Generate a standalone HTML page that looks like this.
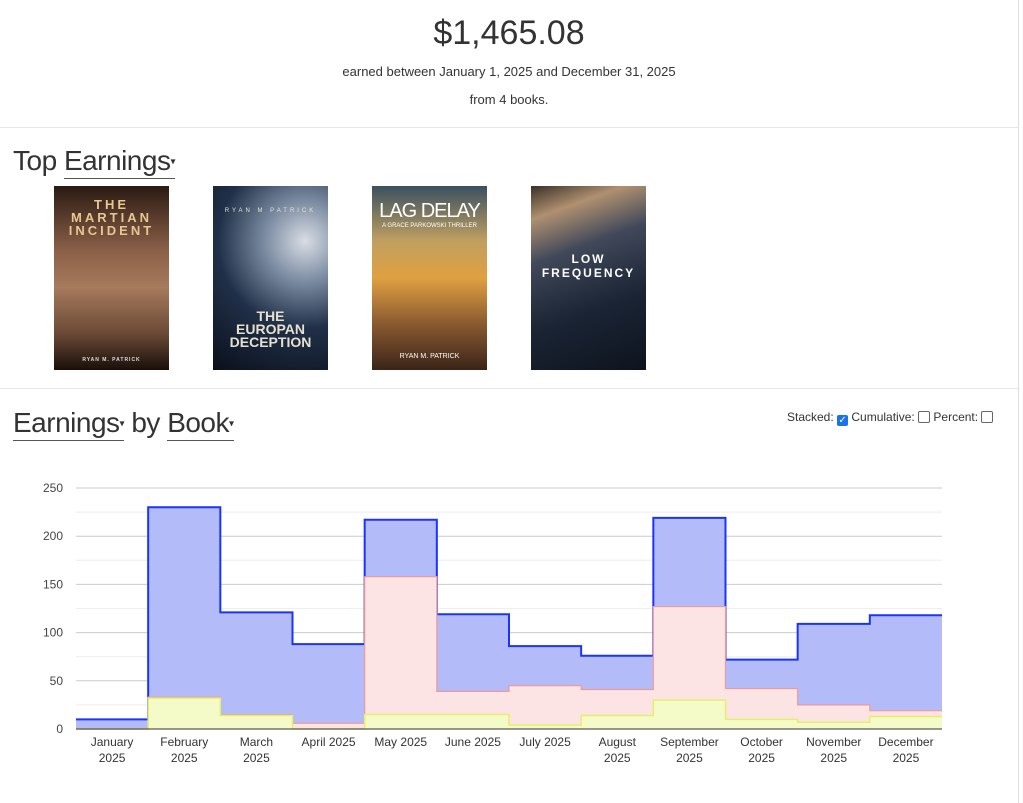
<!DOCTYPE html>
<html><head><meta charset="utf-8">
<style>
body{margin:0;width:1023px;height:803px;background:#fff;font-family:"Liberation Sans",sans-serif;color:#222;position:relative;overflow:hidden}
.abs{position:absolute}
.total{left:0;width:1018px;top:14px;text-align:center;font-size:34px;color:#333}
.sub{left:0;width:1018px;text-align:center;font-size:13px;color:#333}
.hr{left:0;width:1018px;height:1px;background:#e8e8e8}
.h{font-size:28px;color:#333;white-space:nowrap;letter-spacing:-0.5px}
.dd{border-bottom:1.5px solid #555;display:inline-block;line-height:30px}
.car{font-size:10px;vertical-align:middle}
.cover{width:115px;height:184px;overflow:hidden;font-weight:bold;text-align:center}
</style></head><body>
<div class="abs" style="left:1018px;top:0;width:1px;height:803px;background:#ddd"></div>
<div class="abs total">$1,465.08</div>
<div class="abs sub" style="top:64px">earned between January 1, 2025 and December 31, 2025</div>
<div class="abs sub" style="top:92px">from 4 books.</div>
<div class="abs hr" style="top:127px"></div>
<div class="abs h" style="left:13px;top:145px">Top <span class="dd">Earnings<span class="car">▾</span></span></div>

<div class="abs cover" style="left:54px;top:186px;background:linear-gradient(180deg,#2a1a12 0%,#8a6048 35%,#a67a5c 55%,#6b4a36 80%,#1a0f0a 100%);color:#e8c690;font-size:13px;letter-spacing:3px"><div style="margin-top:12px;line-height:13px">THE<br>MARTIAN<br>INCIDENT</div><div style="font-size:5px;margin-top:120px;color:#ddd;letter-spacing:1px">RYAN M. PATRICK</div></div>
<div class="abs cover" style="left:213px;top:186px;background:radial-gradient(circle at 80% 30%,#d9dde4 0%,#7d8da3 25%,#203048 55%,#0a0f1a 100%);color:#e6e0d0;font-size:14px"><div style="font-size:6px;margin-top:22px;letter-spacing:3px;font-weight:normal">RYAN M PATRICK</div><div style="margin-top:96px;line-height:13px">THE<br>EUROPAN<br>DECEPTION</div></div>
<div class="abs cover" style="left:372px;top:186px;background:linear-gradient(180deg,#3a5060 0%,#c0a060 30%,#e0a040 50%,#8a5a30 75%,#3a2418 100%);color:#fff;font-size:20px;font-weight:normal"><div style="margin-top:14px;white-space:nowrap;letter-spacing:-1px">LAG DELAY</div><div style="font-size:6px;white-space:nowrap">A GRACE PARKOWSKI THRILLER</div><div style="font-size:7px;margin-top:124px">RYAN M. PATRICK</div></div>
<div class="abs cover" style="left:531px;top:186px;background:linear-gradient(160deg,#3a3028 0%,#b09070 15%,#40485a 35%,#1a2434 65%,#0e141e 100%);color:#fff;font-size:12px;letter-spacing:2px"><div style="margin-top:66px;line-height:14px">LOW<br>FREQUENCY</div></div>

<div class="abs hr" style="top:388px"></div>
<div class="abs h" style="left:13px;top:407px"><span class="dd">Earnings<span class="car">▾</span></span> by <span class="dd">Book<span class="car">▾</span></span></div>
<div class="abs" style="left:787px;top:410px;font-size:12px;color:#333;white-space:nowrap">Stacked: <span style="display:inline-block;width:11px;height:11px;background:#1a73e8;border-radius:2px;color:#fff;font-size:10px;line-height:11px;text-align:center;vertical-align:-2px">✓</span> Cumulative: <span style="display:inline-block;width:10px;height:10px;border:1px solid #666;border-radius:2px;vertical-align:-2px"></span> Percent: <span style="display:inline-block;width:10px;height:10px;border:1px solid #666;border-radius:2px;vertical-align:-2px"></span></div>

<svg id="chart" class="abs" style="left:0;top:0" width="1023" height="803"></svg>
<script>
const months=["January\n2025","February\n2025","March\n2025","April 2025","May 2025","June 2025","July 2025","August\n2025","September\n2025","October\n2025","November\n2025","December\n2025"];
const seriesYellow=[0,32,14,0,15,15,4,14,30,10,7,13];
const seriesPink=[0,1,1,6,143,24,41,27,97,32,18,6];
const seriesBlue=[10,197,106,82,59,80,41,35,92,30,84,99];
const yTicks=[0,50,100,150,200,250];
const svg=document.getElementById('chart');
const NS='http://www.w3.org/2000/svg';
const x0=76,x1=942,yBase=729,yTop=488,yMax=250;
const bw=(x1-x0)/months.length;
const X=i=>x0+i*bw;
const Y=v=>yBase-(v/yMax)*(yBase-yTop);
function mk(t,a){const e=document.createElementNS(NS,t);for(const k in a)e.setAttribute(k,a[k]);svg.appendChild(e);return e;}
for(let v=0;v<=yMax;v+=25){const g=mk('line',{x1:x0,x2:x1,y1:Y(v),y2:Y(v),stroke:v%50?'#eee':'#ccc','stroke-width':1});

}
yTicks.forEach(v=>{const t=mk('text',{x:63,y:Y(v)+4,'text-anchor':'end','font-size':12,fill:'#444','font-family':'Liberation Sans'});t.textContent=v;

});
const cumY=seriesYellow.slice();
const cumP=seriesYellow.map((v,i)=>v+seriesPink[i]);
const cumB=cumP.map((v,i)=>v+seriesBlue[i]);
function stepPath(top){let d='';top.forEach((v,i)=>{d+=(i?'L':'M')+X(i)+','+Y(v)+'L'+X(i+1)+','+Y(v);});return d;}
function area(top,bot){let d=stepPath(top);for(let i=bot.length-1;i>=0;i--){d+='L'+X(i+1)+','+Y(bot[i])+'L'+X(i)+','+Y(bot[i]);}return d+'Z';}
const zero=months.map(()=>0);
const layers=[[cumB,cumP,'#b3bcf9','#1a33ff',2,'series-blue'],[cumP,cumY,'#fce4e4','#ee9a9a',1.2,'series-pink'],[cumY,zero,'#f5fbc8','#e6ee6a',1.5,'series-yellow']];
layers.forEach(([t,b,f,s,w,n])=>{const a=mk('path',{d:area(t,b),fill:f,stroke:'none'});


const l=mk('path',{d:stepPath(t),fill:'none',stroke:s,'stroke-width':w});

});
const ax=mk('line',{x1:x0,x2:x1,y1:yBase,y2:yBase,stroke:'#333','stroke-width':1});


months.forEach((m,i)=>{const cx=X(i)+bw/2;const parts=m.split('\n');
parts.forEach((p,j)=>{const t=mk('text',{x:cx,y:746+j*16,'text-anchor':'middle','font-size':12,fill:'#333','font-family':'Liberation Sans'});t.textContent=p;

});});
</script>
</body></html>
